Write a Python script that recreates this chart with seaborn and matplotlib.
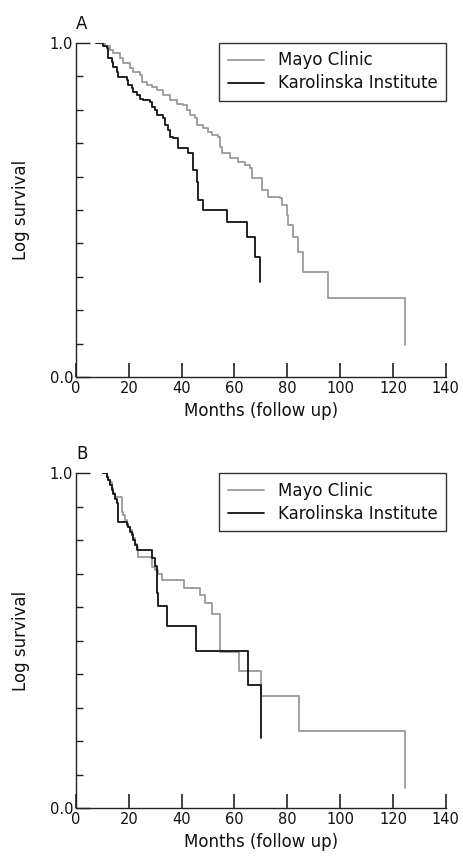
import matplotlib
matplotlib.use("Agg")
import matplotlib.pyplot as plt
from matplotlib.ticker import MultipleLocator
import pandas as pd
import seaborn as sns

# Kaplan-Meier style step data (months, survival after event)

# Panel A
mayo_a_months = [7.6, 11.0, 12.9, 14.1, 16.6, 17.9, 20.4, 21.7, 24.2, 24.8, 26.7, 28.6,
                 30.5, 33.0, 35.6, 38.1, 40.6, 41.9, 43.1, 45.0, 45.7, 48.2, 50.1, 51.3,
                 53.8, 54.5, 55.1, 58.3, 61.4, 63.9, 65.8, 66.5, 70.3, 72.8, 77.2, 77.8,
                 79.7, 80.3, 82.2, 84.1, 86.0, 95.5, 124.5]
mayo_a_surv = [1.0, 0.99, 0.979, 0.969, 0.954, 0.939, 0.924, 0.914, 0.904, 0.884, 0.874, 0.867,
               0.859, 0.844, 0.829, 0.819, 0.814, 0.799, 0.784, 0.775, 0.754, 0.745, 0.734, 0.725,
               0.719, 0.69, 0.67, 0.655, 0.645, 0.635, 0.625, 0.595, 0.56, 0.54, 0.535, 0.515,
               0.485, 0.455, 0.42, 0.375, 0.315, 0.236, 0.095]

kar_a_months = [7.6, 10.3, 11.6, 12.2, 13.5, 14.1, 15.4, 16.0, 19.2, 19.8, 21.1, 21.7,
                23.0, 24.2, 25.5, 28.0, 28.6, 29.9, 30.5, 33.0, 33.7, 34.9, 35.6, 36.8,
                38.7, 42.5, 44.4, 45.7, 46.3, 48.2, 57.0, 64.6, 67.7, 69.6]
kar_a_surv = [1.0, 0.99, 0.984, 0.954, 0.944, 0.929, 0.914, 0.899, 0.889, 0.874, 0.864, 0.854,
              0.844, 0.834, 0.829, 0.824, 0.809, 0.799, 0.784, 0.775, 0.754, 0.74, 0.719, 0.715,
              0.685, 0.67, 0.62, 0.585, 0.53, 0.5, 0.465, 0.42, 0.36, 0.285]

# Panel B
mayo_b_months = [10.3, 11.6, 12.2, 12.9, 13.5, 14.1, 14.8, 17.3, 17.9, 18.5, 19.2, 19.8,
                 20.4, 21.1, 21.7, 22.3, 23.0, 23.6, 28.6, 29.9, 31.1, 32.4, 41.0, 46.9,
                 48.8, 51.3, 54.7, 61.8, 70.2, 84.4, 124.5]
mayo_b_surv = [1.0, 0.99, 0.98, 0.974, 0.955, 0.94, 0.929, 0.885, 0.875, 0.86, 0.85, 0.84,
               0.83, 0.82, 0.805, 0.79, 0.78, 0.75, 0.72, 0.71, 0.7, 0.681, 0.657, 0.636,
               0.611, 0.58, 0.465, 0.409, 0.334, 0.231, 0.059]

kar_b_months = [10.3, 11.6, 12.2, 12.9, 13.5, 14.1, 14.8, 15.4, 16.0, 19.2, 19.8, 20.4,
                21.1, 21.7, 22.3, 23.0, 28.6, 29.9, 30.5, 31.1, 34.3, 45.4, 65.2, 70.2]
kar_b_surv = [1.0, 0.989, 0.979, 0.964, 0.949, 0.939, 0.924, 0.91, 0.855, 0.845, 0.84, 0.825,
              0.815, 0.8, 0.785, 0.77, 0.746, 0.722, 0.643, 0.603, 0.543, 0.469, 0.367, 0.208]

centres = ["Mayo Clinic", "Karolinska Institute"]
colours = {"Mayo Clinic": "#9a9a9a", "Karolinska Institute": "#111111"}


def make_df(mayo_m, mayo_s, kar_m, kar_s):
    return pd.DataFrame({
        "Months": mayo_m + kar_m,
        "Survival": mayo_s + kar_s,
        "Centre": [centres[0]] * len(mayo_m) + [centres[1]] * len(kar_m),
    })


df_a = make_df(mayo_a_months, mayo_a_surv, kar_a_months, kar_a_surv)
df_b = make_df(mayo_b_months, mayo_b_surv, kar_b_months, kar_b_surv)

sns.set_style("ticks")
plt.rcParams["font.family"] = ["DejaVu Sans"]
plt.rcParams["text.color"] = "#111111"
plt.rcParams["axes.labelcolor"] = "#111111"
plt.rcParams["xtick.direction"] = "in"
plt.rcParams["ytick.direction"] = "in"

fig = plt.figure(figsize=(4.64, 8.63), dpi=100)
ax_a = fig.add_axes([0.1638, 0.5631, 0.797, 0.387])
ax_b = fig.add_axes([0.1638, 0.0637, 0.797, 0.388])

for ax, df, letter in [(ax_a, df_a, "A"), (ax_b, df_b, "B")]:
    sns.lineplot(data=df, x="Months", y="Survival", hue="Centre", palette=colours,
                 hue_order=centres, estimator=None, sort=False,
                 drawstyle="steps-post", linewidth=1.3, ax=ax)

    ax.set_xlim(0, 140)
    ax.set_ylim(0, 1.0)
    ax.set_xticks(range(0, 141, 20))
    ax.set_yticks([0.0, 1.0])
    ax.set_yticklabels(["0.0", "1.0"])
    ax.yaxis.set_minor_locator(MultipleLocator(0.1))
    ax.tick_params(axis="x", which="major", direction="in", length=10, width=1.2,
                   color="#222222", labelcolor="#111111", labelsize=10.5, pad=3)
    ax.tick_params(axis="y", which="major", direction="in", length=10, width=1,
                   color="#222222", labelcolor="#111111", labelsize=10.5, pad=2)
    ax.tick_params(axis="y", which="minor", direction="in", length=5, width=1, color="#222222")
    ax.tick_params(axis="x", which="minor", length=0)
    for side in ["top", "right"]:
        ax.spines[side].set_visible(False)
    for side in ["left", "bottom"]:
        ax.spines[side].set_color("#222222")
        ax.spines[side].set_linewidth(1)

    ax.set_xlabel("Months (follow up)", fontsize=12, labelpad=4)
    ax.set_ylabel("Log survival", fontsize=12, labelpad=14)
    ax.text(0.0, 1.03, letter, transform=ax.transAxes, fontsize=12,
            ha="left", va="bottom")

    handles, labels = ax.get_legend_handles_labels()
    ax.get_legend().remove()
    leg = ax.legend(handles, labels, loc="upper right", bbox_to_anchor=(1.0, 1.0),
                    borderaxespad=0, fontsize=12, handlelength=2.2, fancybox=False,
                    framealpha=1, edgecolor="#333333", borderpad=0.5, labelspacing=0.3)
    leg.get_frame().set_linewidth(1)

fig.savefig("out.png", dpi=100)
